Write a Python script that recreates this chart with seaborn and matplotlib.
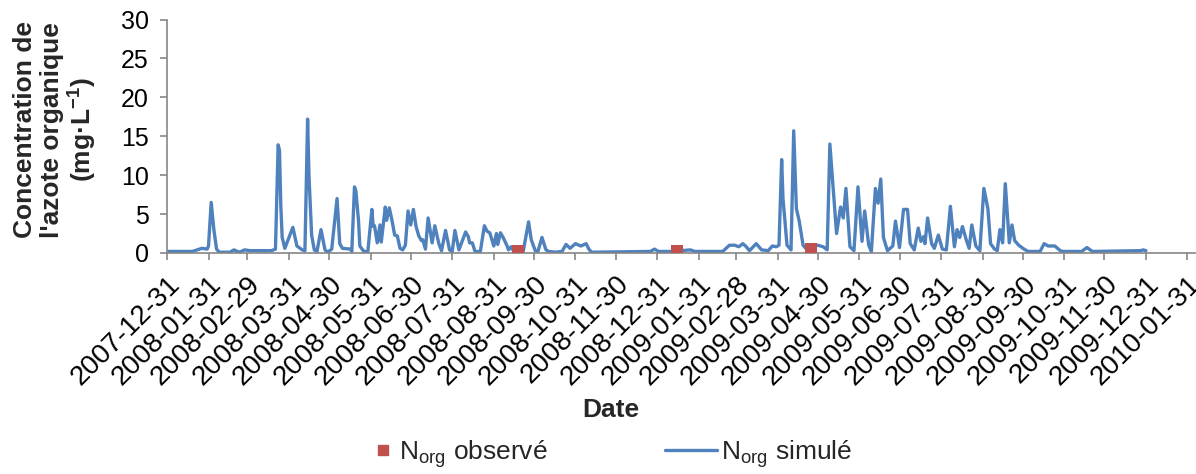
import numpy as np
import pandas as pd
import matplotlib
matplotlib.use("Agg")
import matplotlib.pyplot as plt
import matplotlib.dates as mdates
from matplotlib.lines import Line2D
import seaborn as sns

# ---------------- data ----------------
sim_dates = [
    "2007-12-31", "2008-01-19", "2008-01-26", "2008-01-30", "2008-01-31", "2008-02-02",
    "2008-02-04", "2008-02-06", "2008-02-08", "2008-02-16", "2008-02-19", "2008-02-23",
    "2008-02-27", "2008-03-02", "2008-03-18", "2008-03-21", "2008-03-23", "2008-03-24",
    "2008-03-25", "2008-03-26", "2008-03-28", "2008-04-03", "2008-04-06", "2008-04-10",
    "2008-04-12", "2008-04-14", "2008-04-15", "2008-04-17", "2008-04-19", "2008-04-21",
    "2008-04-24", "2008-04-27", "2008-04-29", "2008-05-02", "2008-05-06", "2008-05-08",
    "2008-05-10", "2008-05-16", "2008-05-17", "2008-05-19", "2008-05-20", "2008-05-22",
    "2008-05-23", "2008-05-26", "2008-05-29", "2008-06-01", "2008-06-02", "2008-06-03",
    "2008-06-05", "2008-06-07", "2008-06-08", "2008-06-11", "2008-06-12", "2008-06-14",
    "2008-06-16", "2008-06-18", "2008-06-20", "2008-06-22", "2008-06-24", "2008-06-26",
    "2008-06-28", "2008-06-30", "2008-07-02", "2008-07-04", "2008-07-06", "2008-07-08",
    "2008-07-09", "2008-07-11", "2008-07-13", "2008-07-16", "2008-07-18", "2008-07-21",
    "2008-07-23", "2008-07-26", "2008-07-29", "2008-07-31", "2008-08-02", "2008-08-05",
    "2008-08-10", "2008-08-12", "2008-08-13", "2008-08-15", "2008-08-17", "2008-08-21",
    "2008-08-24", "2008-08-26", "2008-08-28", "2008-08-30", "2008-08-31", "2008-09-02",
    "2008-09-03", "2008-09-05", "2008-09-07", "2008-09-10", "2008-09-11", "2008-09-13",
    "2008-09-15", "2008-09-22", "2008-09-26", "2008-09-28", "2008-10-01", "2008-10-03",
    "2008-10-06", "2008-10-09", "2008-10-11", "2008-10-16", "2008-10-21", "2008-10-24",
    "2008-10-27", "2008-10-31", "2008-11-04", "2008-11-08", "2008-11-10", "2008-11-12",
    "2008-12-26", "2008-12-29", "2009-01-01", "2009-01-10", "2009-01-25", "2009-01-28",
    "2009-02-18", "2009-02-23", "2009-02-27", "2009-03-02", "2009-03-05", "2009-03-07",
    "2009-03-10", "2009-03-15", "2009-03-19", "2009-03-24", "2009-03-27", "2009-03-30",
    "2009-04-01", "2009-04-03", "2009-04-04", "2009-04-07", "2009-04-10", "2009-04-12",
    "2009-04-14", "2009-04-16", "2009-04-19", "2009-04-21", "2009-04-26", "2009-04-30",
    "2009-05-04", "2009-05-07", "2009-05-09", "2009-05-14", "2009-05-17", "2009-05-19",
    "2009-05-21", "2009-05-24", "2009-05-27", "2009-05-30", "2009-06-02", "2009-06-04",
    "2009-06-07", "2009-06-09", "2009-06-12", "2009-06-14", "2009-06-16", "2009-06-18",
    "2009-06-21", "2009-06-25", "2009-06-27", "2009-06-30", "2009-07-03", "2009-07-06",
    "2009-07-08", "2009-07-11", "2009-07-14", "2009-07-16", "2009-07-18", "2009-07-19",
    "2009-07-21", "2009-07-24", "2009-07-26", "2009-07-29", "2009-08-01", "2009-08-04",
    "2009-08-07", "2009-08-10", "2009-08-12", "2009-08-14", "2009-08-16", "2009-08-19",
    "2009-08-21", "2009-08-23", "2009-08-26", "2009-08-29", "2009-09-01", "2009-09-04",
    "2009-09-06", "2009-09-09", "2009-09-11", "2009-09-13", "2009-09-15", "2009-09-17",
    "2009-09-20", "2009-09-22", "2009-09-24", "2009-09-27", "2009-10-01", "2009-10-04",
    "2009-10-13", "2009-10-16", "2009-10-19", "2009-10-24", "2009-10-28", "2009-10-30",
    "2009-11-13", "2009-11-17", "2009-11-21", "2009-12-27", "2009-12-29", "2009-12-31",
]
sim_values = [
    0.2, 0.2, 0.6, 0.5, 0.9, 6.5,
    3.0, 0.5, 0.1, 0.1, 0.4, 0.1,
    0.4, 0.3, 0.3, 0.5, 13.9, 13.2,
    6.0, 2.0, 0.6, 3.3, 0.9, 0.4,
    0.3, 17.2, 10.0, 2.3, 0.4, 0.2,
    3.0, 0.4, 0.1, 0.5, 7.0, 1.2,
    0.6, 0.5, 0.2, 8.5, 8.0, 4.2,
    0.9, 0.2, 0.2, 5.6, 3.4, 3.5,
    1.3, 3.6, 1.4, 5.9, 4.2, 5.8,
    4.2, 2.3, 2.2, 0.6, 0.4, 1.0,
    5.4, 3.6, 5.6, 3.4, 2.2, 1.6,
    1.7, 0.5, 4.5, 1.3, 3.5, 1.2,
    0.3, 2.9, 0.4, 0.2, 2.9, 0.4,
    2.7, 2.1, 1.3, 1.3, 0.2, 0.2,
    3.5, 2.8, 2.6, 1.5, 0.9, 2.5,
    1.1, 2.6, 2.0, 0.9, 0.4, 0.8,
    0.2, 0.2, 4.0, 1.7, 0.3, 0.2,
    2.0, 0.4, 0.2, 0.1, 0.2, 1.1,
    0.6, 1.2, 0.9, 1.2, 0.5, 0.1,
    0.2, 0.5, 0.2, 0.2, 0.4, 0.2,
    0.2, 1.0, 1.0, 0.8, 1.2, 0.9,
    0.3, 1.2, 0.4, 0.3, 0.9, 0.8,
    1.0, 12.0, 7.0, 1.0, 0.4, 15.7,
    5.7, 4.2, 1.0, 0.6, 0.8, 1.0,
    0.8, 0.4, 14.0, 2.5, 5.9, 4.5,
    8.3, 0.8, 0.3, 8.5, 1.5, 5.4,
    1.0, 0.2, 8.3, 6.4, 9.5, 2.0,
    0.3, 0.9, 4.1, 0.7, 5.6, 5.6,
    1.2, 0.4, 3.2, 1.5, 2.1, 1.2,
    4.5, 1.2, 0.6, 2.3, 0.5, 0.4,
    6.0, 0.8, 3.0, 2.0, 3.4, 1.6,
    0.6, 3.6, 0.9, 0.3, 8.3, 5.7,
    1.2, 0.5, 0.3, 3.0, 1.3, 8.9,
    1.3, 3.6, 1.6, 1.0, 0.5, 0.2,
    0.2, 1.2, 0.9, 0.9, 0.3, 0.2,
    0.2, 0.7, 0.2, 0.3, 0.4, 0.3,
]
obs_dates = ["2008-09-18", "2009-01-15", "2009-04-25"]
obs_values = [0.3, 0.3, 0.5]

tick_dates = pd.date_range("2007-12-31", "2010-01-31", freq="ME")
y_ticks = [0, 5, 10, 15, 20, 25, 30]
labels = ["N$_{\\mathrm{org}}$ observé", "N$_{\\mathrm{org}}$ simulé"]

# ---------------- style ----------------
sns.set_theme(style="white")
plt.rcParams["font.family"] = ["Liberation Sans", "DejaVu Sans"]
plt.rcParams["mathtext.fontset"] = "custom"
plt.rcParams["mathtext.rm"] = "Liberation Sans"
plt.rcParams["mathtext.it"] = "Liberation Sans:italic"
plt.rcParams["mathtext.bf"] = "Liberation Sans:bold"

BLUE = "#4F81BD"
RED = "#C0504D"
GREY = "#868686"

sim = pd.DataFrame({"date": pd.to_datetime(sim_dates), "value": sim_values})
obs = pd.DataFrame({"date": pd.to_datetime(obs_dates), "value": obs_values})

W, H = 1196, 474
fig = plt.figure(figsize=(W / 100, H / 100), dpi=100)
ax = fig.add_axes([167 / W, 1 - 253 / H, (1195 - 167) / W, (253 - 19.5) / H])

sns.lineplot(data=sim, x="date", y="value", ax=ax, color=BLUE, linewidth=2.4,
             solid_joinstyle="round", legend=False)
sns.scatterplot(data=obs, x="date", y="value", ax=ax, color=RED, marker="s", s=72,
                edgecolor="none", zorder=3, legend=False)

ax.set_xlim(pd.Timestamp("2007-12-31"), pd.Timestamp("2010-02-05 16:00"))
ax.set_ylim(0, 30)
ax.set_yticks(y_ticks)
ax.set_yticklabels([str(v) for v in y_ticks])
ax.set_xticks(tick_dates)
ax.set_xticklabels([d.strftime("%Y-%m-%d") for d in tick_dates], rotation=45,
                   ha="right", va="top", rotation_mode="anchor")

for side in ["top", "right"]:
    ax.spines[side].set_visible(False)
for side in ["left", "bottom"]:
    ax.spines[side].set_color(GREY)
    ax.spines[side].set_linewidth(1.2)

ax.tick_params(axis="x", bottom=True, direction="out", length=5, width=1.2,
               color=GREY, labelsize=20, pad=8, labelcolor="black")
ax.tick_params(axis="y", left=True, direction="out", length=5, width=1.2,
               color=GREY, labelsize=18, pad=8, labelcolor="black")

ax.set_xlabel("Date", fontsize=19, fontweight="bold", va="center")
ax.xaxis.set_label_coords((611 - 167) / 1028, (253 - 410) / 233.5)
ax.set_ylabel("Concentration de\nl'azote organique\n(mg·L$^{\\mathbf{-1}}$)",
              fontsize=19, fontweight="bold", va="center", linespacing=1.12)
ax.yaxis.set_label_coords((56 - 167) / 1028, (253 - 130) / 233.5)

# two separate legend blocks so marker / line handles sit as in the reference
leg1 = fig.legend([Line2D([], [], color=RED, marker="s", linestyle="none", markersize=7)],
                  [labels[0]], loc="center left",
                  bbox_to_anchor=(364 / W, 1 - 454 / H), frameon=False, fontsize=19,
                  handlelength=0.65, handletextpad=0.27, borderpad=0.4, borderaxespad=0)
leg2 = fig.legend([Line2D([], [], color=BLUE, linewidth=2.4)],
                  [labels[1]], loc="center left",
                  bbox_to_anchor=(654 / W, 1 - 454 / H), frameon=False, fontsize=19,
                  handlelength=2.0, handletextpad=0.15, borderpad=0.4, borderaxespad=0)

fig.savefig("out.png", dpi=100)
